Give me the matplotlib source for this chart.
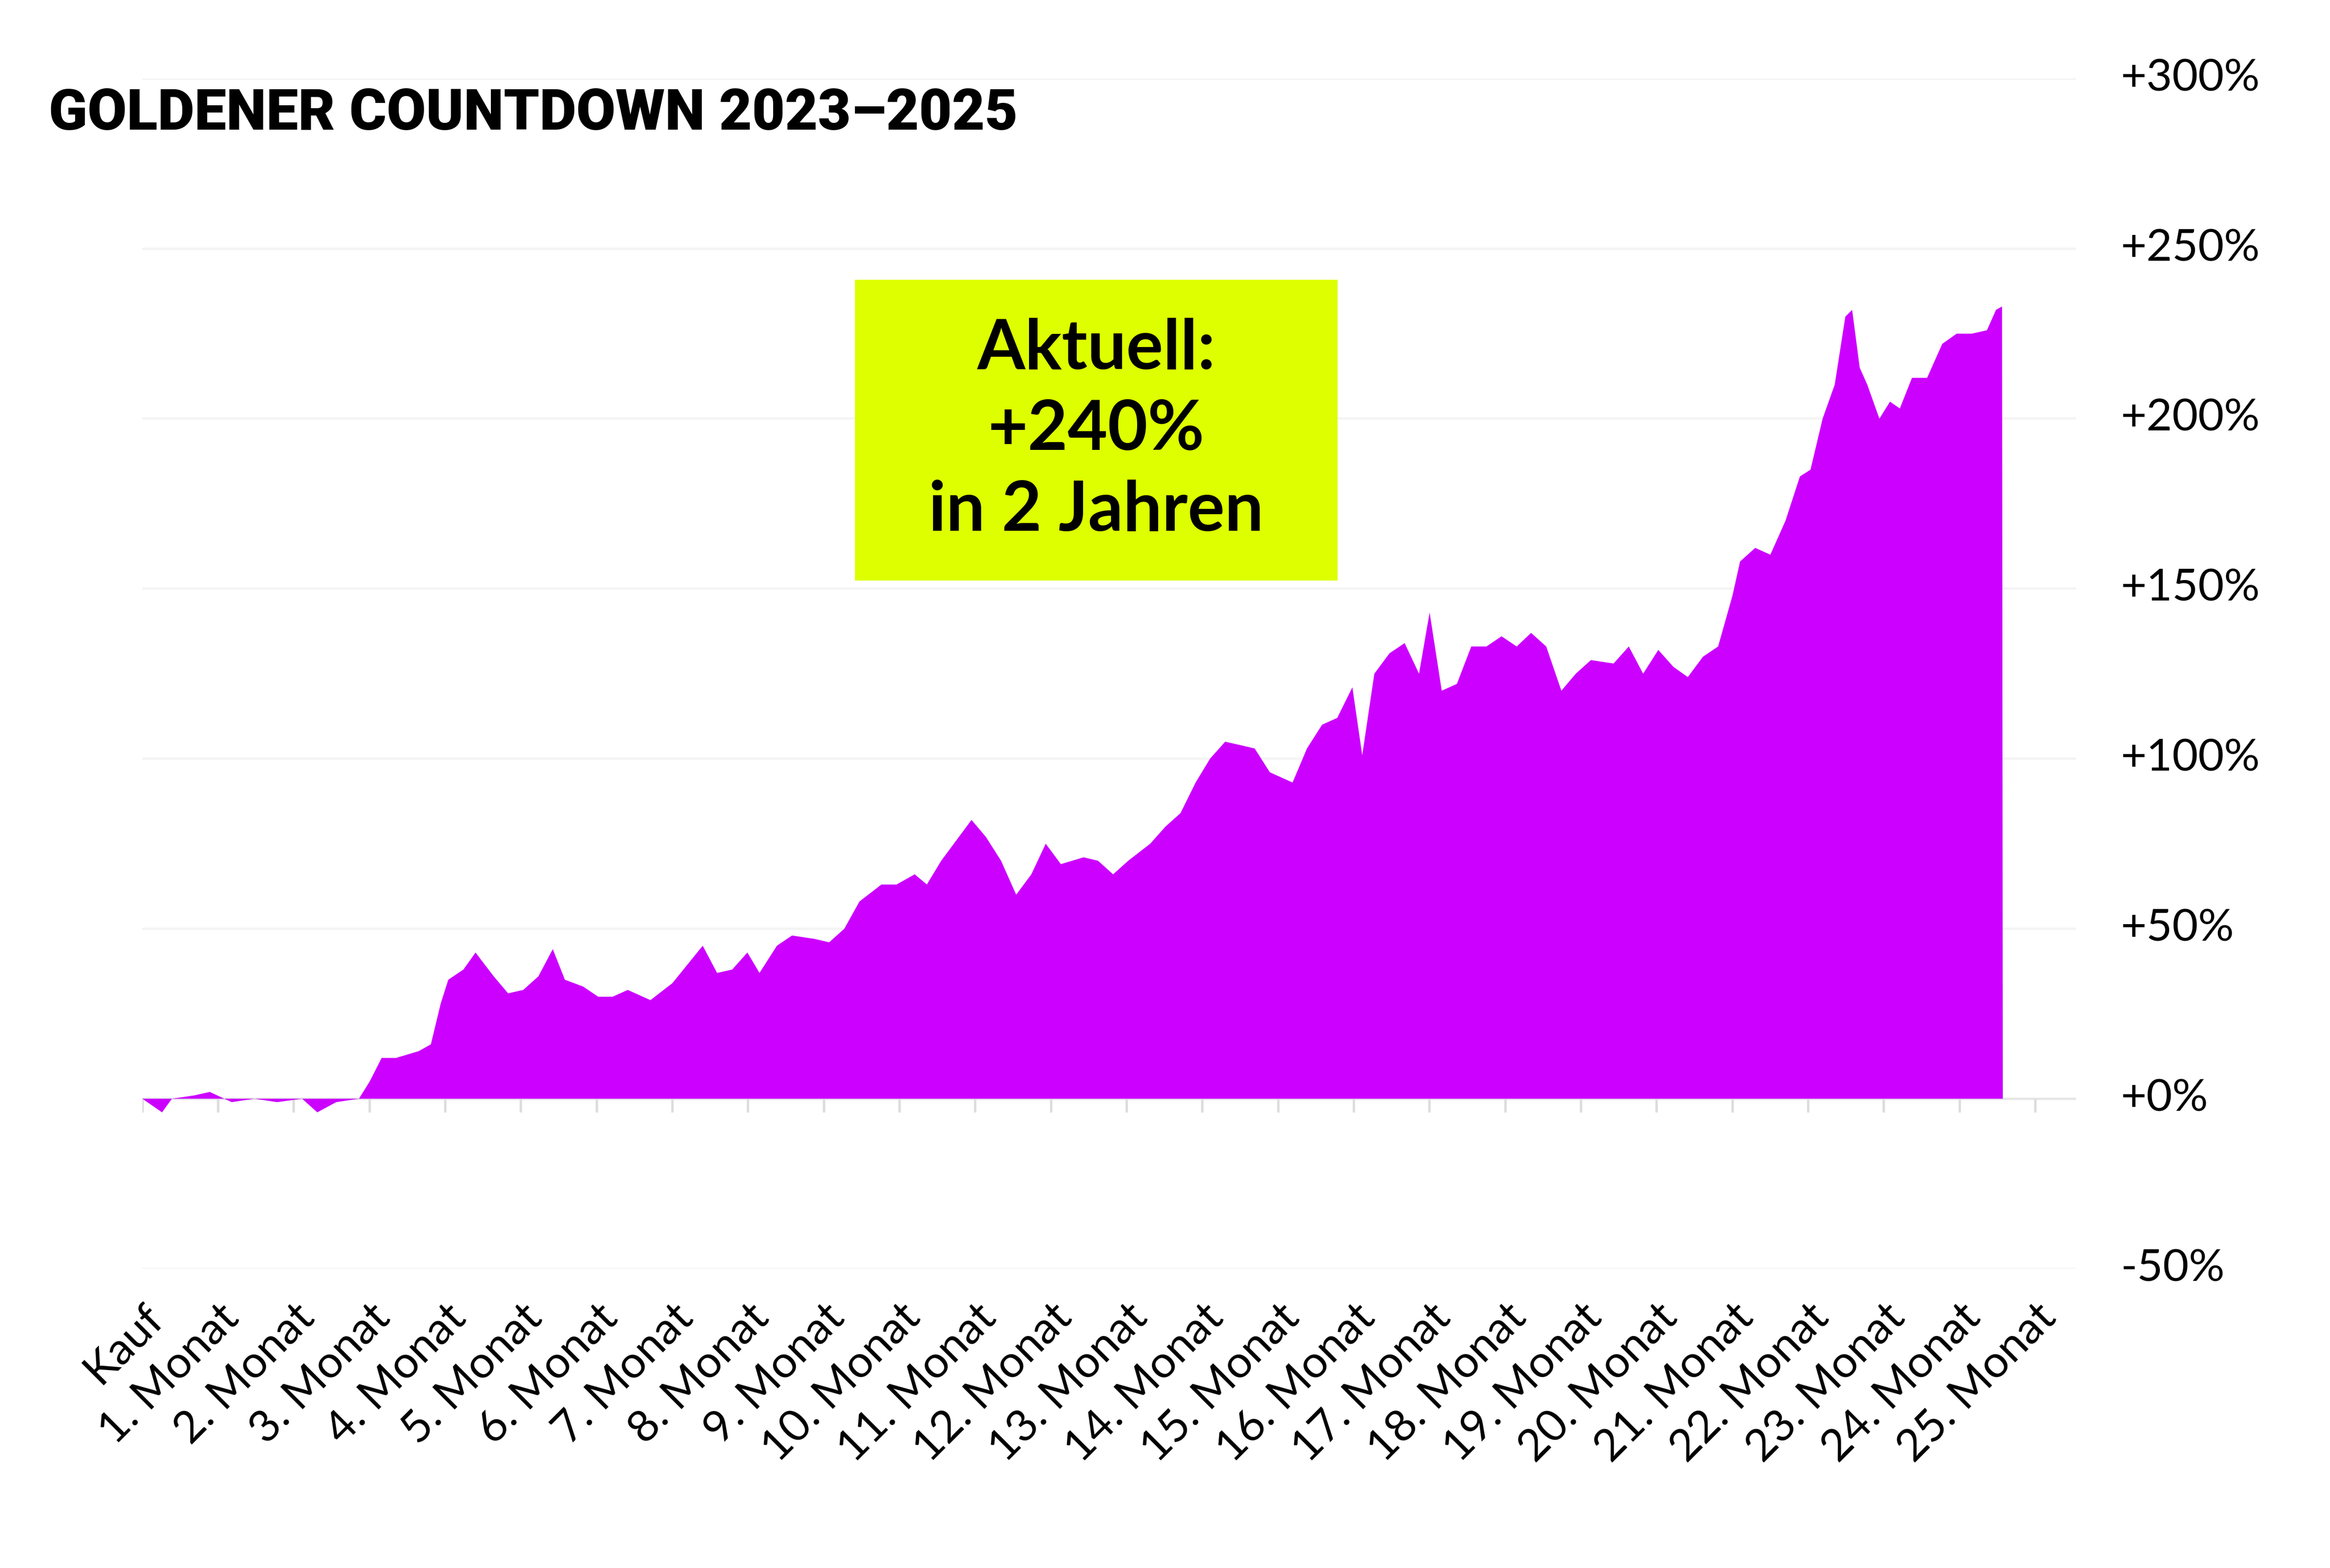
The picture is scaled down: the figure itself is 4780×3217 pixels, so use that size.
import matplotlib
matplotlib.use("Agg")
import matplotlib.pyplot as plt
from matplotlib.patches import Rectangle

months = [0, 0.26, 0.39, 0.69, 0.89, 1.18, 1.48, 1.78, 2.11, 2.31, 2.56, 2.86, 3.0, 3.16, 3.35, 3.65, 3.81, 3.94,
          4.04, 4.24, 4.40, 4.64, 4.83, 5.03, 5.23, 5.42, 5.58, 5.82, 6.02, 6.21, 6.41, 6.71, 7.0, 7.40, 7.59, 7.79,
          7.99, 8.15, 8.38, 8.58, 8.88, 9.07, 9.27, 9.47, 9.76, 9.96, 10.2, 10.36, 10.55, 10.75, 10.95, 11.14, 11.34,
          11.54, 11.74, 11.93, 12.13, 12.43, 12.62, 12.82, 13.02, 13.31, 13.51, 13.71, 13.91, 14.1, 14.3, 14.5, 14.69,
          14.89, 15.19, 15.38, 15.58, 15.78, 15.98, 16.11, 16.27, 16.47, 16.67, 16.86, 17.0, 17.16, 17.36, 17.55,
          17.75, 17.95, 18.15, 18.34, 18.54, 18.74, 18.93, 19.13, 19.43, 19.63, 19.82, 20.02, 20.22, 20.41, 20.61,
          20.81, 21.0, 21.1, 21.3, 21.5, 21.7, 21.89, 22.03, 22.19, 22.35, 22.49, 22.58, 22.68, 22.78, 22.94, 23.08,
          23.21, 23.37, 23.57, 23.77, 23.96, 24.16, 24.36, 24.48, 24.56, 24.57]
perf = [0, -4, 0, 1, 2, -1, 0, -1, 0, -4, -1, 0, 5, 12, 12, 14, 16, 28,
        35, 38, 43, 36, 31, 32, 36, 44, 35, 33, 30, 30, 32, 29, 34, 45, 37, 38,
        43, 37, 45, 48, 47, 46, 50, 58, 63, 63, 66, 63, 70, 76, 82, 77, 70,
        60, 66, 75, 69, 71, 70, 66, 70, 75, 80, 84, 93, 100, 105, 104, 103,
        96, 93, 103, 110, 112, 121, 101, 125, 131, 134, 125, 143, 120, 122, 133,
        133, 136, 133, 137, 133, 120, 125, 129, 128, 133, 125, 132, 127, 124, 130,
        133, 148, 158, 162, 160, 170, 183, 185, 200, 210, 230, 232, 215, 210, 200, 205,
        203, 212, 212, 222, 225, 225, 226, 232, 233, 0]

tick_pos = list(range(26))
tick_labels = ["Kauf"] + [f"{i}. Monat" for i in range(1, 26)]
y_ticks = [-50, 0, 50, 100, 150, 200, 250, 300]
y_labels = ["-50%", "+0%", "+50%", "+100%", "+150%", "+200%", "+250%", "+300%"]

FONT = ["Lato", "DejaVu Sans"]
fig = plt.figure(figsize=(4780/300, 3217/300), dpi=300)
ax = fig.add_axes([0.061, 0.191, 0.830, 0.759])
ax.set_xlim(0, 25.54)
ax.set_ylim(-50, 300)
for y in y_ticks:
    ax.axhline(y, color="#e6e6e6" if y == 0 else "#f4f4f4", lw=1.2, zorder=0)
ax.fill_between(months, perf, 0, color="#CC00FF", lw=0, zorder=2)
ax.vlines(tick_pos, -4, 0, color="#dddddd", lw=1.2, zorder=1)
for s in ax.spines.values():
    s.set_visible(False)
ax.yaxis.tick_right()
ax.set_yticks(y_ticks)
ax.set_yticklabels(y_labels, fontsize=22, family=FONT)
ax.tick_params(axis="y", length=0, pad=22)
for t in ax.get_yticklabels():
    t.set_verticalalignment("center")
ax.set_xticks(tick_pos)
ax.set_xticklabels(tick_labels, fontsize=22, family=FONT, rotation=45, ha="right", rotation_mode="anchor")
ax.tick_params(axis="x", length=0, pad=14)

fig.text(0.021, 0.927, "GOLDENER COUNTDOWN 2023–2025", fontsize=28, fontweight="black",
         family=["Roboto", "DejaVu Sans"], va="center", ha="left")

fig.patches.append(Rectangle((573/1560, 1-388/1050), (895-573)/1560, (388-188)/1050,
                             transform=fig.transFigure, color="#DDFF00", zorder=5))
fig.text((573+895)/2/1560, 1-288/1050, "Aktuell:\n+240%\nin 2 Jahren", fontsize=34, fontweight="bold",
         family=FONT, ha="center", va="center", linespacing=1.35, zorder=6)

fig.savefig("out.png", dpi=300, facecolor="white")
